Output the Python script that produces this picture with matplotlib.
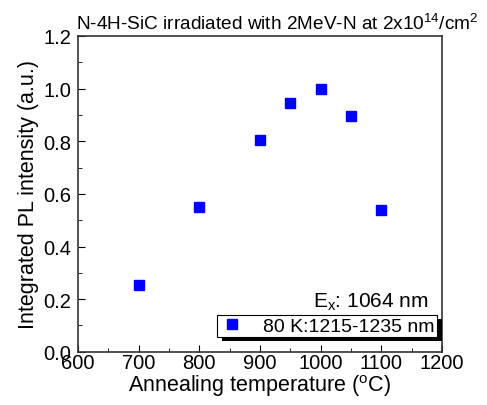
import matplotlib
matplotlib.use('Agg')
import matplotlib.pyplot as plt
from matplotlib.patches import Rectangle
from matplotlib.ticker import MultipleLocator

plt.rcParams['font.family'] = ['Liberation Sans', 'DejaVu Sans']

# annealing temperature (C) and normalised integrated PL intensity
temps = [700, 800, 900, 950, 1000, 1050, 1100]
intensity = [0.252, 0.550, 0.803, 0.945, 1.0, 0.895, 0.540]

fig = plt.figure(figsize=(4.87, 4.06), dpi=100)
ax = fig.add_axes([0.160, 0.131, 0.748, 0.778])

ax.plot(temps, intensity, 's', color='blue', ms=7, ls='none',
        label='80 K:1215-1235 nm')

ax.set_xlim(600, 1200)
ax.set_ylim(0.0, 1.2)
ax.xaxis.set_major_locator(MultipleLocator(100))
ax.xaxis.set_minor_locator(MultipleLocator(50))
ax.yaxis.set_major_locator(MultipleLocator(0.2))
ax.yaxis.set_minor_locator(MultipleLocator(0.1))
ax.yaxis.set_major_formatter(matplotlib.ticker.FormatStrFormatter('%.1f'))
ax.tick_params(which='both', direction='in', labelsize=14.5)
ax.tick_params(axis='x', pad=1)
ax.tick_params(axis='y', pad=5)
ax.tick_params(which='major', length=5)
ax.tick_params(which='minor', length=3)
for s in ax.spines.values():
    s.set_linewidth(1.2)
    s.set_color('#333333')

ax.set_xlabel('Annealing temperature ($\\mathregular{^o}$C)', fontsize=15.5, labelpad=0)
ax.set_ylabel('Integrated PL intensity (a.u.)', fontsize=15.5, labelpad=3)
ax.set_title('N-4H-SiC irradiated with 2MeV-N at 2x10$\\mathregular{^{14}}$/cm$\\mathregular{^2}$',
             fontsize=13.7, loc='left', x=-0.005, pad=5)

ax.text(0.962, 0.16, 'E$\\mathregular{_x}$: 1064 nm', transform=ax.transAxes,
        ha='right', va='center', fontsize=15)

leg = ax.legend(loc='lower right', bbox_to_anchor=(0.985, 0.047), fontsize=14,
                frameon=True, fancybox=False, framealpha=1, edgecolor='black',
                borderpad=0.1, handletextpad=0.9, borderaxespad=0,
                handlelength=1.4, markerscale=1.0)
leg.get_frame().set_linewidth(0.8)
leg.set_zorder(5)

# black drop shadow behind the legend box
fig.canvas.draw()
bb = leg.get_window_extent().transformed(fig.transFigure.inverted())
shadow = Rectangle((bb.x0 + 5 / 487, bb.y0 - 4 / 406), bb.width, bb.height,
                   transform=fig.transFigure, facecolor='black',
                   edgecolor='none', zorder=4)
ax.add_artist(shadow)

fig.savefig('out.png', dpi=100)
